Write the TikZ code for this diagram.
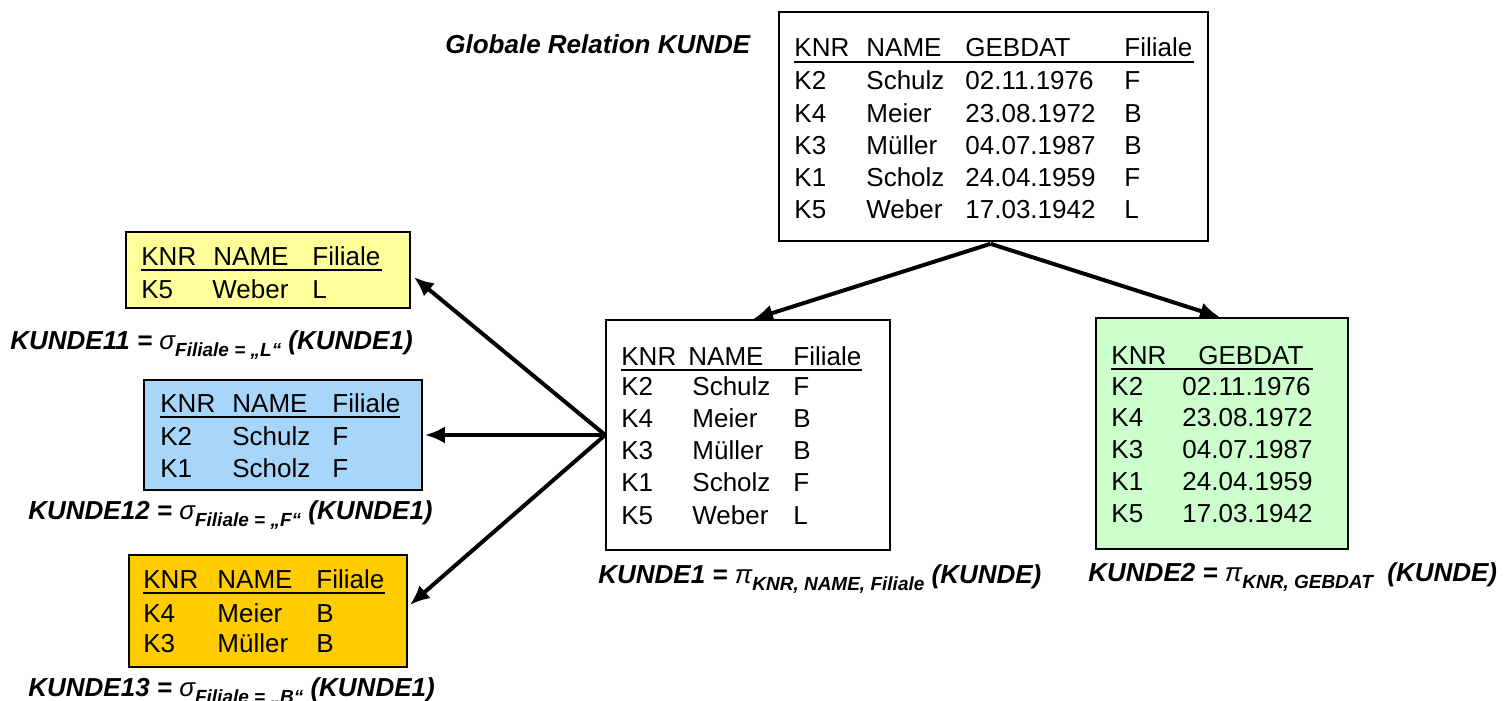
\documentclass[tikz,border=0pt]{standalone}
\usepackage{fontspec}
\setmainfont{Liberation Sans}
\usetikzlibrary{arrows.meta,fit,calc}
\definecolor{cyellow}{HTML}{FFFF99}
\definecolor{cblue}{HTML}{A8D6FA}
\definecolor{cgreen}{HTML}{CCFFCC}
\definecolor{corange}{HTML}{FFCC00}
\newcommand\SubTxt[1]{\raisebox{-0.55ex}{\fontsize{9.5}{10}\selectfont\bfseries\itshape #1}}
\newcommand\GrK[1]{{\mdseries\itshape #1}}
\begin{document}
\begin{tikzpicture}[x=0.5pt,y=-0.5pt,
  relbox/.style={draw=black, line width=0.8pt, inner sep=0pt},
  cell/.style={anchor=base west, inner sep=0pt, font=\fontsize{13}{15}\selectfont},
  lbl/.style={anchor=base west, inner sep=0pt, font=\fontsize{13}{15}\selectfont\bfseries\itshape},
  uline/.style={line width=1pt},
  arr/.style={line width=2pt, -{Latex[length=10pt,width=8.5pt]}}]
\useasboundingbox (0,0) rectangle (1510,701);

% ---------- global relation ----------
\node[relbox, fit={(779,12)(1208,241)}] (A) {};
\node[lbl] (Atitle) at (445,54) {Globale Relation KUNDE};
\node[cell] (Ah1) at (794,57) {KNR};
\node[cell] (Ah2) at (866,57) {NAME};
\node[cell] (Ah3) at (965,57) {GEBDAT};
\node[cell] (Ah4) at (1124,57) {Filiale};
\draw[uline] (794,62) -- (1194,62);
\foreach \a/\b/\c/\d [count=\i] in {K2/Schulz/02.11.1976/F, K4/Meier/23.08.1972/B, K3/Müller/04.07.1987/B, K1/Scholz/24.04.1959/F, K5/Weber/17.03.1942/L}{
  \node[cell] (Aa\i) at (794,{90+32.25*(\i-1)}) {\a};
  \node[cell] (Ab\i) at (866,{90+32.25*(\i-1)}) {\b};
  \node[cell] (Ac\i) at (965,{90+32.25*(\i-1)}) {\c};
  \node[cell] (Ad\i) at (1124,{90+32.25*(\i-1)}) {\d};
}

% ---------- KUNDE1 ----------
\node[relbox, fit={(606,320)(890,550)}] (B) {};
\node[cell] (Bh1) at (621,365) {KNR};
\node[cell] (Bh2) at (688,365) {NAME};
\node[cell] (Bh3) at (793,365) {Filiale};
\draw[uline] (621,370) -- (862,370);
\foreach \a/\b/\d [count=\i] in {K2/Schulz/F, K4/Meier/B, K3/Müller/B, K1/Scholz/F, K5/Weber/L}{
  \node[cell] (Ba\i) at (621,{395+32.3*(\i-1)}) {\a};
  \node[cell] (Bb\i) at (692,{395+32.3*(\i-1)}) {\b};
  \node[cell] (Bd\i) at (793,{395+32.3*(\i-1)}) {\d};
}
\node[lbl] (Blbl) at (598,583) {KUNDE1 = \GrK{π}\SubTxt{KNR, NAME, Filiale} (KUNDE)};

% ---------- KUNDE2 ----------
\node[relbox, fill=cgreen, fit={(1096,318)(1348,549)}] (C) {};
\node[cell] (Ch1) at (1111,364) {KNR};
\node[cell] (Ch2) at (1198,364) {GEBDAT};
\draw[uline] (1111,369) -- (1313,369);
\foreach \a/\c [count=\i] in {K2/02.11.1976, K4/23.08.1972, K3/04.07.1987, K1/24.04.1959, K5/17.03.1942}{
  \node[cell] (Ca\i) at (1111,{395+31.8*(\i-1)}) {\a};
  \node[cell] (Cc\i) at (1182,{395+31.8*(\i-1)}) {\c};
}
\node[lbl] (Clbl) at (1088,581) {KUNDE2 = \GrK{π}\SubTxt{KNR, GEBDAT} \ (KUNDE)};

% ---------- KUNDE11 ----------
\node[relbox, fill=cyellow, fit={(126,232)(410,308)}] (D) {};
\node[cell] (Dh1) at (141,265) {KNR};
\node[cell] (Dh2) at (213,265) {NAME};
\node[cell] (Dh3) at (312,265) {Filiale};
\draw[uline] (141,270) -- (382,270);
\node[cell] (Da1) at (141,298) {K5};
\node[cell] (Db1) at (212,298) {Weber};
\node[cell] (Dd1) at (312,298) {L};
\node[lbl] (Dlbl) at (10,349) {KUNDE11 = \GrK{σ}\SubTxt{Filiale = „L“} (KUNDE1)};

% ---------- KUNDE12 ----------
\node[relbox, fill=cblue, fit={(144,380)(422,490)}] (E) {};
\node[cell] (Eh1) at (160,412) {KNR};
\node[cell] (Eh2) at (232,412) {NAME};
\node[cell] (Eh3) at (332,412) {Filiale};
\draw[uline] (160,417) -- (400,417);
\foreach \a/\b/\d [count=\i] in {K2/Schulz/F, K1/Scholz/F}{
  \node[cell] (Ea\i) at (160,{445+32*(\i-1)}) {\a};
  \node[cell] (Eb\i) at (232,{445+32*(\i-1)}) {\b};
  \node[cell] (Ed\i) at (332,{445+32*(\i-1)}) {\d};
}
\node[lbl] (Elbl) at (28,519) {KUNDE12 = \GrK{σ}\SubTxt{Filiale = „F“} (KUNDE1)};

% ---------- KUNDE13 ----------
\node[relbox, fill=corange, fit={(129,555)(407,667)}] (F) {};
\node[cell] (Fh1) at (143,588) {KNR};
\node[cell] (Fh2) at (217,588) {NAME};
\node[cell] (Fh3) at (316,588) {Filiale};
\draw[uline] (143,593) -- (385,593);
\foreach \a/\b/\d [count=\i] in {K4/Meier/B, K3/Müller/B}{
  \node[cell] (Fa\i) at (143,{622+30.5*(\i-1)}) {\a};
  \node[cell] (Fb\i) at (217,{622+30.5*(\i-1)}) {\b};
  \node[cell] (Fd\i) at (316,{622+30.5*(\i-1)}) {\d};
}
\node[lbl] (Flbl) at (28,696) {KUNDE13 = \GrK{σ}\SubTxt{Filiale = „B“} (KUNDE1)};

% ---------- arrows ----------
\coordinate (Asrc) at ($(A.south)+(-3,2)$);
\draw[arr] (Asrc) -- ($(B.north)+(5,0)$);
\draw[arr] (Asrc) -- ($(C.north)+(-2,0)$);
\coordinate (Bsrc) at (B.west);
\draw[arr] (Bsrc) -- ($(D.east)+(3,7)$);
\draw[arr] (Bsrc) -- ($(E.east)+(2,0)$);
\draw[arr] (Bsrc) -- ($(F.east)+(2,-6)$);
\end{tikzpicture}
\end{document}
